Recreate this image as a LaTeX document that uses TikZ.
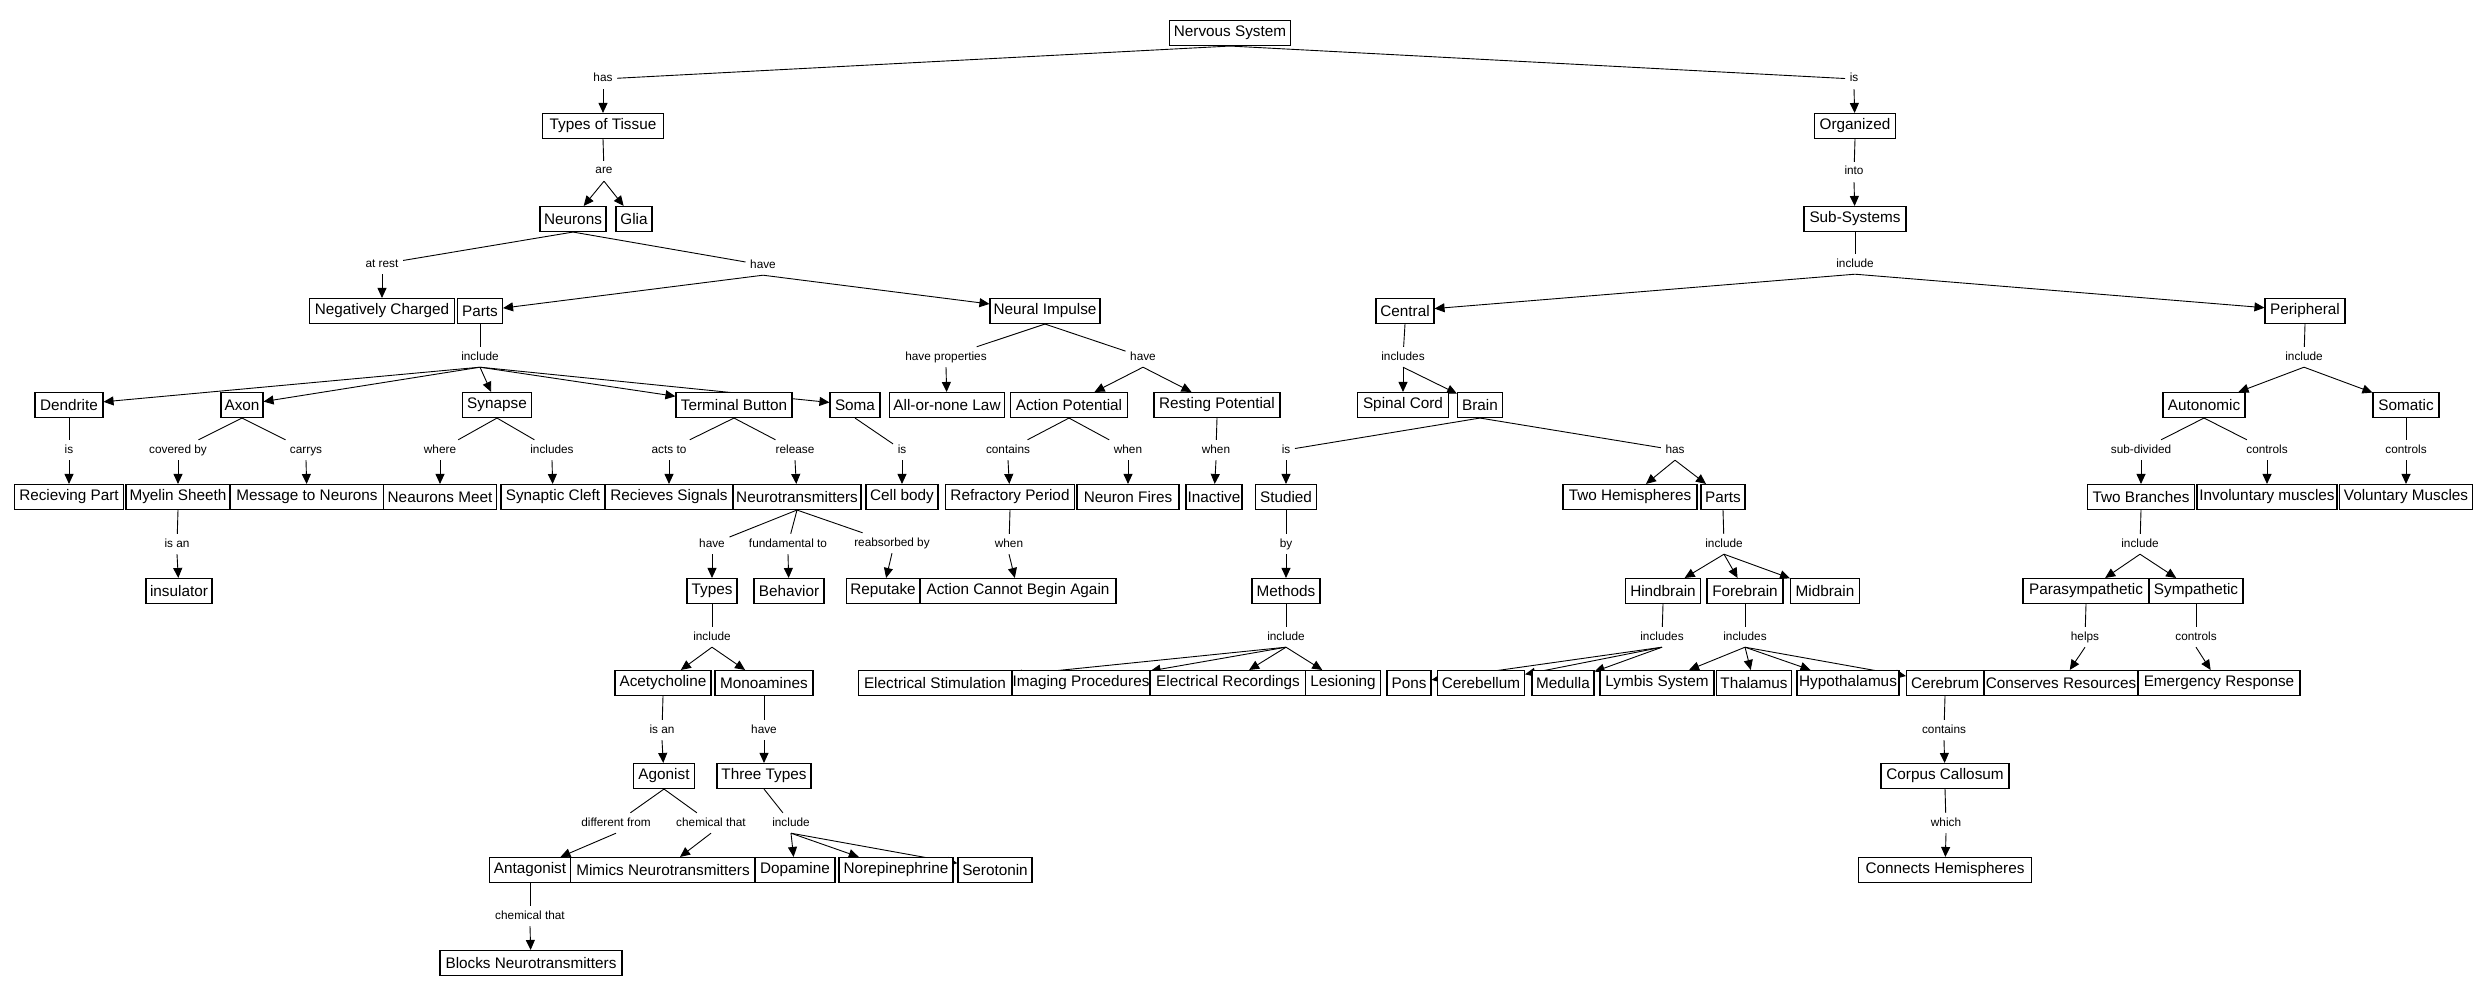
\documentclass[tikz,border=0pt]{standalone}
\usepackage{fontspec}
\setmainfont{Liberation Sans}
\usetikzlibrary{arrows.meta,backgrounds}

\begin{document}
\begin{tikzpicture}[
  x=1pt, y=-1pt,
  concept/.style={draw, line width=1.1pt, fill=white, minimum height=25pt, inner xsep=0pt, inner ysep=2pt,
    font=\fontsize{15.3}{18}\selectfont},
  link/.style={font=\fontsize{11.8}{14}\selectfont, inner sep=4.5pt, text height=8.5pt, text depth=2.5pt},
  line/.style={line width=0.9pt},
  arrow/.style={line width=0.9pt, -{Triangle[length=10pt,width=9pt]}}
]
\useasboundingbox (0,0) rectangle (2487,995);

\foreach \name/\x/\y/\w/\txt in {
  ns/1230/33/121/Nervous System,
  tissue/603/126/121/Types of Tissue, organized/1855/126/81/Organized,
  neurons/573/219/66/Neurons, glia/634/219/36/Glia, subsys/1855/219/102/Sub-Systems,
  negative/382/311/145/Negatively Charged, parts/480/311/45/Parts, impulse/1045/311/110/Neural Impulse,
  central/1405/311/58/Central, peripheral/2305/311/80/Peripheral,
  dendrite/69/405/68/Dendrite, axon/242/405/42/Axon, synapse/497/405/69/Synapse,
  terminal/734/405/116/Terminal Button, soma/855/405/50/Soma, allnone/947/405/115/All-or-none Law,
  action/1069/405/117/Action Potential, resting/1217/405/126/Resting Potential,
  spinal/1403/405/91/Spinal Cord, brain/1480/405/45/Brain,
  autonomic/2204/405/82/Autonomic, somatic/2406/405/66/Somatic,
  receiving/69/497/109/Recieving Part, myelin/178/497/104/Myelin Sheeth, message/307/497/153/Message to Neurons,
  meet/440/497/113/Neaurons Meet, cleft/553/497/104/Synaptic Cleft, signals/669/497/128/Recieves Signals,
  neurotrans/797/497/128/Neurotransmitters, cellbody/902/497/72/Cell body,
  refractory/1010/497/129/Refractory Period, fires/1128/497/102/Neuron Fires, inactive/1214/497/56/Inactive,
  studied/1286/497/61/Studied, hemis/1630/497/134/Two Hemispheres, bparts/1723/497/44/Parts,
  branches/2141/497/107/Two Branches, involuntary/2267/497/140/Involuntary muscles,
  voluntary/2406/497/133/Voluntary Muscles,
  insulator/179/591/66/insulator, types/712/591/50/Types, behavior/789/591/70/Behavior,
  reuptake/883/591/73/Reputake, cannot/1018/591/196/Action Cannot Begin Again,
  methods/1286/591/68/Methods, hindbrain/1663/591/75/Hindbrain, forebrain/1745/591/76/Forebrain,
  midbrain/1825/591/69/Midbrain, parasym/2086/591/126/Parasympathetic, sym/2196/591/94/Sympathetic,
  acetyl/663/683/96/Acetycholine, monoam/764/683/98/Monoamines,
  elstim/935/683/153/Electrical Stimulation, imaging/1081/683/138/Imaging Procedures,
  elrec/1228/683/155/Electrical Recordings, lesion/1343/683/75/Lesioning,
  pons/1409/683/44/Pons, cerebellum/1481/683/87/Cerebellum, medulla/1563/683/62/Medulla,
  lymbis/1657/683/114/Lymbis System, thalamus/1754/683/75/Thalamus, hypo/1848/683/102/Hypothalamus,
  cerebrum/1945/683/77/Cerebrum, conserves/2061/683/154/Conserves Resources,
  emergency/2219/683/162/Emergency Response,
  agonist/664/776/61/Agonist, three/764/776/94/Three Types, corpus/1945/776/128/Corpus Callosum,
  antagonist/530/870/81/Antagonist, mimics/663/870/185/Mimics Neurotransmitters,
  dopamine/795/870/80/Dopamine, norepi/896/870/114/Norepinephrine, serotonin/995/870/74/Serotonin,
  connects/1945/870/173/Connects Hemispheres,
  blocks/531/963/182/Blocks Neurotransmitters%
}{
  \node[concept] (\name) at (\x,\y) {\makebox[\w pt]{\txt}};
}

\foreach \name/\x/\y/\txt in {
  lhas/603/79/has, lis/1854/79/is, lare/604/171/are, lrest/382/264/at rest, lhave/763/265/have,
  linto/1854/172/into, lsub/1855/264/include, lparts/480/357/include, lprop/946/357/have properties,
  lhave2/1143/357/have, lcent/1403/357/includes, lperi/2304/357/include,
  ldend/69/450/is, lcov/178/450/covered by, lcarry/306/450/carrys, lwhere/440/450/where,
  lsyn/552/450/includes, lacts/669/450/acts to, lrel/795/450/release, lsoma/902/450/is,
  lcont/1008/450/contains, lwhen1/1128/450/when, lwhen2/1216/450/when, lbis/1286/450/is,
  lbhas/1675/450/has, lsubd/2141/450/sub-divided, lctrl1/2267/450/controls, lctrl2/2406/450/controls,
  lisan/177/544/is an, lnthave/712/544/have, lfund/788/544/fundamental to, lreab/892/543/reabsorbed by,
  lwhen3/1009/544/when, lby/1286/544/by, lbpinc/1724/544/include, lbrinc/2140/544/include,
  ltypinc/712/637/include, lmeth/1286/637/include, lhind/1662/637/includes, lfore/1745/637/includes,
  lhelps/2085/637/helps, lctrl3/2196/637/controls,
  lisan2/662/730/is an, lmhave/764/730/have, lconts/1944/730/contains,
  ldiff/616/823/different from, lchem1/711/823/chemical that, lttinc/791/823/include,
  lwhich/1946/823/which, lchem2/530/916/chemical that%
}{
  \node[link] (\name) at (\x,\y) {\txt};
}

\begin{scope}[on background layer]
\foreach \a/\b in {
  ns/lhas, ns/lis, tissue/lare, neurons/lrest, neurons/lhave, organized/linto, subsys/lsub,
  parts/lparts, impulse/lprop, impulse/lhave2, central/lcent, peripheral/lperi,
  dendrite/ldend, axon/lcov, axon/lcarry, synapse/lwhere, synapse/lsyn, terminal/lacts, terminal/lrel,
  soma/lsoma, action/lcont, action/lwhen1, resting/lwhen2, brain/lbis, brain/lbhas,
  autonomic/lsubd, autonomic/lctrl1, somatic/lctrl2, myelin/lisan, neurotrans/lnthave,
  neurotrans/lfund, neurotrans/lreab, refractory/lwhen3, studied/lby, bparts/lbpinc, branches/lbrinc,
  types/ltypinc, methods/lmeth, hindbrain/lhind, forebrain/lfore, parasym/lhelps, sym/lctrl3,
  acetyl/lisan2, monoam/lmhave, cerebrum/lconts, agonist/ldiff, agonist/lchem1, three/lttinc,
  corpus/lwhich, antagonist/lchem2%
}{
  \draw[line] (\a.south) -- (\b);
}
\foreach \a/\b in {
  lhas/tissue, lis/organized, lare/neurons, lare/glia, lrest/negative, lhave/parts, lhave/impulse,
  linto/subsys, lsub/central, lsub/peripheral, lparts/dendrite, lparts/axon, lparts/synapse,
  lparts/terminal, lparts/soma, lprop/allnone, lhave2/action, lhave2/resting, lcent/spinal,
  lcent/brain, lperi/autonomic, lperi/somatic, ldend/receiving, lcov/myelin, lcarry/message,
  lwhere/meet, lsyn/cleft, lacts/signals, lrel/neurotrans, lsoma/cellbody, lcont/refractory,
  lwhen1/fires, lwhen2/inactive, lbis/studied, lbhas/hemis, lbhas/bparts, lsubd/branches,
  lctrl1/involuntary, lctrl2/voluntary, lisan/insulator, lnthave/types, lfund/behavior,
  lreab/reuptake, lwhen3/cannot, lby/methods, lbpinc/hindbrain, lbpinc/forebrain, lbpinc/midbrain,
  lbrinc/parasym, lbrinc/sym, ltypinc/acetyl, ltypinc/monoam, lmeth/elstim, lmeth/imaging,
  lmeth/elrec, lmeth/lesion, lhind/pons, lhind/cerebellum, lhind/medulla, lfore/lymbis,
  lfore/thalamus, lfore/hypo, lfore/cerebrum, lhelps/conserves, lctrl3/emergency,
  lisan2/agonist, lmhave/three, lconts/corpus, ldiff/antagonist, lchem1/mimics,
  lttinc/dopamine, lttinc/norepi, lttinc/serotonin, lwhich/connects, lchem2/blocks%
}{
  \draw[arrow] (\a.south) -- (\b);
}
\end{scope}
\end{tikzpicture}
\end{document}
